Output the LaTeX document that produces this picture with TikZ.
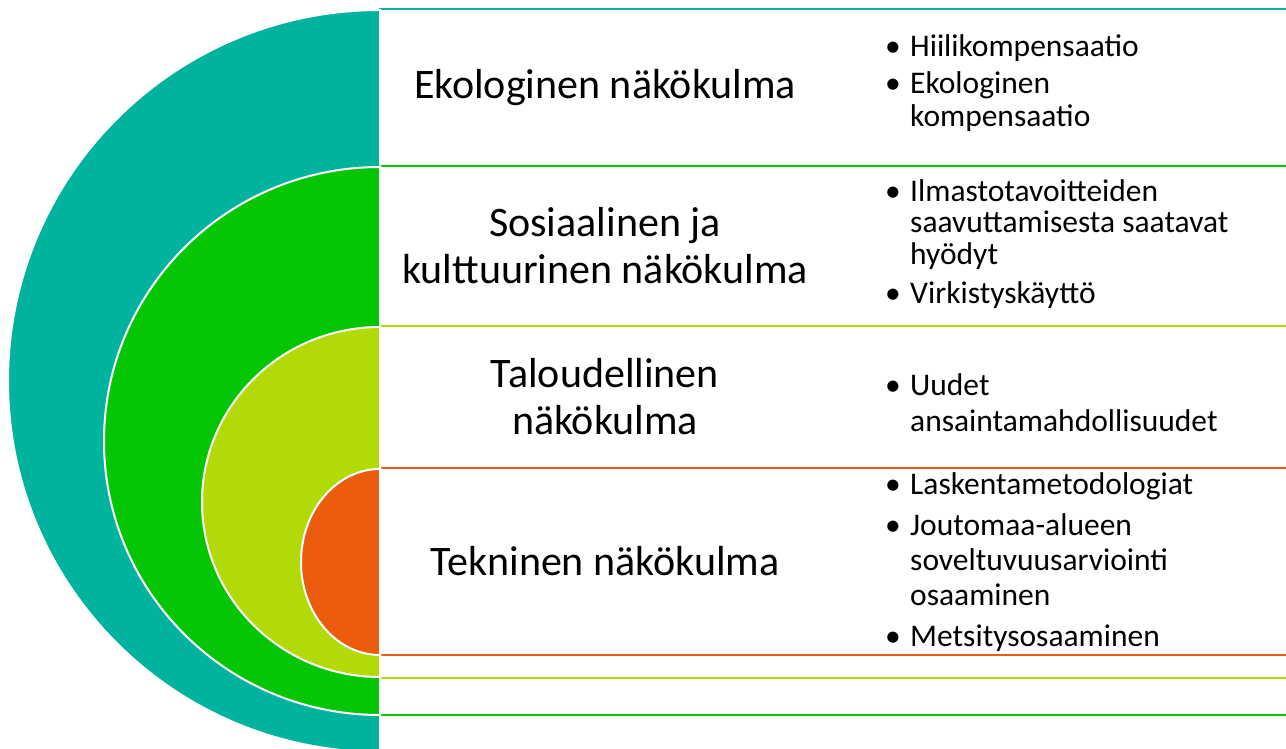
\documentclass[tikz,border=0pt]{standalone}
\usepackage{fontspec}
\setmainfont{Carlito}
\definecolor{ekoteal}{RGB}{0,179,159}
\definecolor{sosgreen}{RGB}{4,198,4}
\definecolor{tallime}{RGB}{178,218,8}
\definecolor{tekorange}{RGB}{235,92,14}
\tikzset{
        half/.style={draw=white, line width=2pt},
        band/.style={line width=2.6pt, fill=white},
        heading/.style={align=center, inner sep=0pt, font=\fontsize{42}{47}\selectfont},
        bullets/.style={anchor=base west, inner sep=0pt, font=\fontsize{31.5}{#1}\selectfont}
          }
\newcommand{\itm}{\makebox[25pt][l]{\textbullet}}

\begin{document}
\begin{tikzpicture}[x=1pt, y=-1pt]
  \useasboundingbox (0,0) rectangle (1286,749);
  \begin{scope}
    \clip (0,0) rectangle (1286,749);
    % bands on the right
    \draw[band, draw=ekoteal] (380,9) rectangle (1300,770);
    \draw[band, draw=sosgreen] (380,166) rectangle (1300,715);
    \draw[band, draw=tallime] (380,326) rectangle (1300,678);
    \draw[band, draw=tekorange] (380,468) rectangle (1300,655);
    % half discs
    \filldraw[half, fill=ekoteal] (380,10) arc[start angle=-90, end angle=-270, x radius=372, y radius=371] -- cycle;
    \filldraw[half, fill=sosgreen] (380,167) arc[start angle=-90, end angle=-270, x radius=276, y radius=274] -- cycle;
    \filldraw[half, fill=tallime] (380,327) arc[start angle=-90, end angle=-270, x radius=178, y radius=175] -- cycle;
    \filldraw[half, fill=tekorange] (380,469) arc[start angle=-90, end angle=-270, x radius=79, y radius=93] -- cycle;
  \end{scope}
  \node[heading] (ekol) at (605,87.5) {Ekologinen näkökulma};
  \node[heading] (sosi) at (605,246) {Sosiaalinen ja\\kulttuurinen näkökulma};
  \node[heading] (talo) at (605,397) {Taloudellinen\\näkökulma};
  \node[heading] (tekn) at (605,561.5) {Tekninen näkökulma};
  \node[bullets=33] (ekolist) at (885,57) {\begin{tabular}[t]{@{}l@{}l@{}}
    \itm & Hiilikompensaatio\\[4pt]
    \itm & Ekologinen\\
         & kompensaatio
  \end{tabular}};
  \node[bullets=31] (sosilist) at (885,202) {\begin{tabular}[t]{@{}l@{}l@{}}
    \itm & Ilmastotavoitteiden\\
         & saavuttamisesta saatavat\\
         & hyödyt\\[8pt]
    \itm & Virkistyskäyttö
  \end{tabular}};
  \node[bullets=36] (talolist) at (885,395) {\begin{tabular}[t]{@{}l@{}l@{}}
    \itm & Uudet\\
         & ansaintamahdollisuudet
  \end{tabular}};
  \node[bullets=35] (teknlist) at (885,494) {\begin{tabular}[t]{@{}l@{}l@{}}
    \itm & Laskentametodologiat\\[6pt]
    \itm & Joutomaa-alueen\\
         & soveltuvuusarviointi\\
         & osaaminen\\[6pt]
    \itm & Metsitysosaaminen
  \end{tabular}};
\end{tikzpicture}
\end{document}
